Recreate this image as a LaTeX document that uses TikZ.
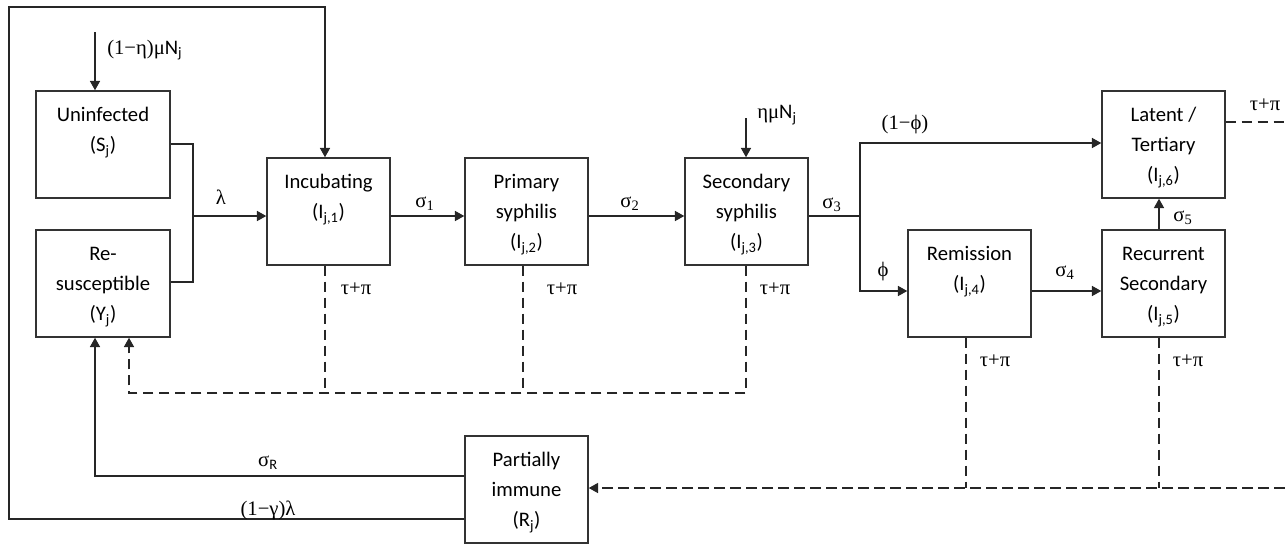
\documentclass[tikz,border=0pt]{standalone}
\usepackage{fontspec}
\setmainfont{Carlito}
\newfontfamily\gk{Liberation Serif}
\usetikzlibrary{arrows.meta}
\newcommand\bxt[3]{\parbox[c][#1][t]{#2}{\centering\fontsize{15.5pt}{22.5pt}\selectfont\rule{0pt}{23pt}#3}}
\newcommand\sbs[1]{\textsubscript{#1}}
\begin{document}
\begin{tikzpicture}[x=0.75pt,y=-0.75pt,
  line/.style={draw=black!85, line width=1.2pt},
  arr/.style={line, -{Triangle[length=7pt,width=7.5pt]}},
  dsh/.style={line, dash pattern=on 8pt off 4pt},
  darr/.style={dsh, -{Triangle[length=7pt,width=7.5pt]}},
  box/.style={draw=black!80, line width=1.1pt, inner sep=0pt},
  lbl/.style={font=\gk\fontsize{15.5pt}{18pt}\selectfont, inner sep=0pt}]
\useasboundingbox (0,0) rectangle (1285,544);

% boxes
\node[box] (S)  at (103,144.5)   {\bxt{80.25pt}{100.5pt}{Uninfected\\(S\sbs{j})}};
\node[box] (Y)  at (103,283.5)   {\bxt{80.25pt}{100.5pt}{Re-\\susceptible\\(Y\sbs{j})}};
\node[box] (I1) at (328.5,211.5) {\bxt{80.25pt}{92.25pt}{Incubating\\(I\sbs{j,1})}};
\node[box] (I2) at (526.5,211.5) {\bxt{80.25pt}{92.25pt}{Primary\\syphilis\\(I\sbs{j,2})}};
\node[box] (I3) at (746.5,211.5) {\bxt{80.25pt}{92.25pt}{Secondary\\syphilis\\(I\sbs{j,3})}};
\node[box] (I6) at (1163.5,144.5){\bxt{80.25pt}{92.25pt}{Latent /\\Tertiary\\(I\sbs{j,6})}};
\node[box] (I4) at (969.5,283.5) {\bxt{80.25pt}{92.25pt}{Remission\\(I\sbs{j,4})}};
\node[box] (I5) at (1163.5,283.5){\bxt{80.25pt}{92.25pt}{Recurrent\\Secondary\\(I\sbs{j,5})}};
\node[box] (R)  at (526.5,489.5) {\bxt{80.25pt}{92.25pt}{Partially\\immune\\(R\sbs{j})}};

% free ends
\coordinate (inS) at (95,32);
\coordinate (inI3) at (746,118);
\coordinate (J1) at (193,216);
\coordinate (J3) at (860,216);
\coordinate (E6) at (1285,122);
\coordinate (E7) at (1285,488);

% solid connectors
\draw[arr] (inS) -- (S.north -| inS);
\draw[arr] (inI3) -- (I3.north -| inI3);
\draw[line] (S.east |- 0,144) -| (193,282) -- (Y.east |- 0,282);
\draw[arr] (J1) -- (I1.west |- J1);
\draw[arr] (I1.east |- 0,216) -- (I2.west |- 0,216);
\draw[arr] (I2.east |- 0,216) -- (I3.west |- 0,216);
\draw[line] (I3.east |- 0,216) -- (J3);
\draw[arr] (J3) |- (I6.west |- 0,143);
\draw[arr] (J3) |- (I4.west |- 0,291);
\draw[arr] (I4.east |- 0,291) -- (I5.west |- 0,291);
\draw[arr] (I5.north -| 1159,0) -- (I6.south -| 1159,0);
\draw[arr] (R.west |- 0,476) -| (Y.south -| 95,0);
\draw[arr] (R.west |- 0,519) -| (9,7) -| (I1.north -| 325,0);

% dashed connectors
\draw[dsh] (I1.south -| 325,0) -- (325,393);
\draw[dsh] (I2.south -| 523,0) -- (523,393);
\draw[darr] (I3.south -| 746,0) |- (129,393) -- (Y.south -| 129,0);
\draw[dsh] (I4.south -| 966,0) -- (966,488);
\draw[dsh] (I5.south -| 1159,0) -- (1159,488);
\draw[darr] (E7) -- (R.east |- E7);
\draw[dsh] (I6.east |- E6) -- (E6);

% labels
\node[lbl, anchor=west] (l0) at (107,50) {(1−η)μ{\rmfamily N\sbs{j}}};
\node[lbl, anchor=west] (l1) at (757,115) {ημ{\rmfamily N\sbs{j}}};
\node[lbl] (l2) at (221,197) {λ};
\node[lbl] (l3) at (425,204) {σ\sbs{1}};
\node[lbl] (l4) at (630,204) {σ\sbs{2}};
\node[lbl] (l5) at (832,205) {σ\sbs{3}};
\node[lbl] (l6) at (905,125) {(1−ϕ)};
\node[lbl] (l7) at (883,272) {ϕ};
\node[lbl] (l8) at (1065,273) {σ\sbs{4}};
\node[lbl] (l9) at (1183,218) {σ\sbs{5}};
\node[lbl] (t1) at (356,289) {τ+π};
\node[lbl] (t2) at (562,289) {τ+π};
\node[lbl] (t3) at (775,289) {τ+π};
\node[lbl] (t4) at (995,361) {τ+π};
\node[lbl] (t5) at (1188,361) {τ+π};
\node[lbl] (t6) at (1265,105) {τ+π};
\node[lbl] (l10) at (268,463) {σ{\rmfamily\sbs{R}}};
\node[lbl] (l11) at (268,510) {(1−γ)λ};
\end{tikzpicture}
\end{document}
